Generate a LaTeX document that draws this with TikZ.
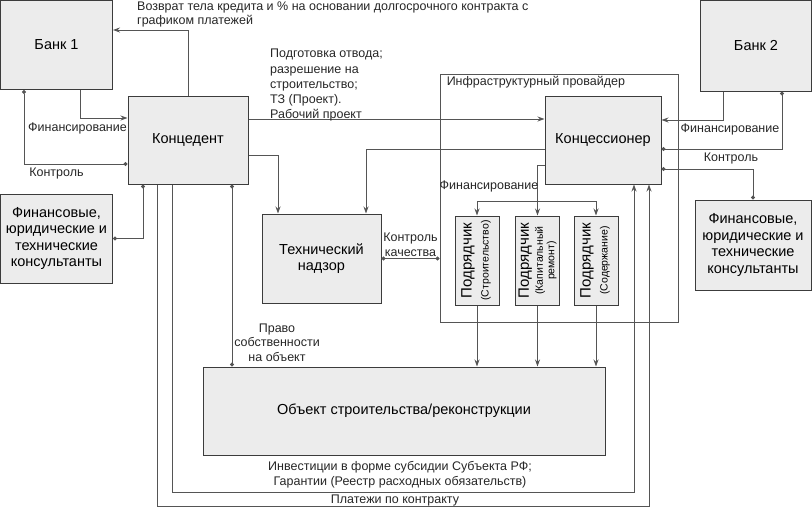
\documentclass[tikz,border=0pt]{standalone}
\usepackage{fontspec}
\setmainfont{Liberation Sans}
\usepackage{graphicx}
\usetikzlibrary{arrows.meta}
\definecolor{boxfill}{HTML}{ECECEC}
\definecolor{boxline}{HTML}{3C3C3C}
\definecolor{wirecol}{HTML}{555555}
\tikzset{
  box/.style={draw=boxline, fill=boxfill, line width=1pt, inner sep=2pt,
    align=center, font=\fontsize{14.5}{16.5}\selectfont},
  lbl/.style={inner sep=0pt, text=black!85, font=\fontsize{12.5}{15.2}\selectfont},
  wire/.style={draw=wirecol, line width=0.9pt},
  arr/.style={wire, -{Stealth[length=7pt,width=5pt]}},
  arrboth/.style={wire, {Stealth[length=7pt,width=5pt]}-{Stealth[length=7pt,width=5pt]}},
  dots/.style={wire, {Circle[length=4pt]}-{Circle[length=4pt]}}
}
\newcommand{\subtext}[2]{\rotatebox{90}{\begin{tabular}{@{}c@{}}%
  {\fontsize{15}{15}\selectfont #1}\\[1pt]%
  {\fontsize{10.5}{11.5}\selectfont\begin{tabular}{@{}c@{}}#2\end{tabular}}\end{tabular}}}

\begin{document}
\begin{tikzpicture}[x=1pt, y=-1pt]
\useasboundingbox (0,0) rectangle (812,507);
% infrastructure provider frame
\node[wire, minimum width=238pt, minimum height=248pt] (infra) at (559,198) {};
\node[lbl, anchor=north west] at ([shift={(7pt,-2pt)}]infra.north west) {Инфраструктурный провайдер};
% boxes
\node[box, minimum width=112pt, minimum height=89pt] (bank1) at (56.5,45) {Банк 1};
\node[box, minimum width=120pt, minimum height=88pt] (cnd) at (188,140) {Концедент};
\node[box, minimum width=112pt, minimum height=89pt] (consL) at (56.5,238.5)
  {Финансовые,\\юридические и\\технические\\консультанты};
\node[box, minimum width=119pt, minimum height=89pt] (tech) at (321.5,258.5) {Технический\\надзор};
\node[box, minimum width=116pt, minimum height=88pt] (cns) at (603,140) {Концессионер};
\node[box, minimum width=111pt, minimum height=91pt] (bank2) at (756,45.5) {Банк 2};
\node[box, minimum width=116pt, minimum height=90pt] (consR) at (753,245)
  {Финансовые,\\юридические и\\технические\\консультанты};
\node[box, minimum width=44pt, minimum height=89pt] (sub1) at (477,260.5) {\subtext{Подрядчик}{(Строительство)}};
\node[box, minimum width=44pt, minimum height=89pt] (sub2) at (537.5,260.5) {\subtext{Подрядчик}{(Капитальный\\ремонт)}};
\node[box, minimum width=44pt, minimum height=89pt] (sub3) at (596,260.5) {\subtext{Подрядчик}{(Содержание)}};
\node[box, minimum width=402pt, minimum height=88pt] (obj) at (404,411) {Объект строительства/реконструкции};

% connectors
\draw[arr] (cnd.north) |- ([yshift=15pt]bank1.east);
\draw[arr] ([xshift=23.5pt]bank1.south) |- ([yshift=22pt]cnd.west);
\draw[dots] ([xshift=-32.5pt]bank1.south) |- ([yshift=-24pt]cnd.west);
\draw[dots] (consL.east) -| ([xshift=-45pt]cnd.south);
\draw[arr] ([yshift=21pt]cnd.east) -- ([yshift=21pt]cns.west);
\draw[arr] ([yshift=-15pt]cnd.east) -| ([xshift=-43.5pt]tech.north);
\draw[arr] ([yshift=-9pt]cns.west) -| ([xshift=44.5pt]tech.north);
\draw[dots] (tech.east) -- (tech.east -| infra.west);
\draw[arr] ([xshift=-33pt]bank2.south) |- ([yshift=20pt]cns.east);
\draw[dots] ([xshift=26pt]bank2.south) |- ([yshift=-9pt]cns.east);
\draw[dots] ([yshift=-29pt]cns.east) -| (consR.north);
\draw[arr] ([yshift=-25pt]cns.west) -| (sub2.north);
\draw[arrboth] (sub1.north) |- ([yshift=14pt]sub2.north) -| (sub3.north);
\foreach \s in {sub1,sub2,sub3}
  \draw[arr] (\s.south) -- (\s.south |- obj.north);
\draw[dots] ([xshift=44pt]cnd.south) -- ([xshift=44pt]cnd.south |- obj.north);
\draw[arr] ([xshift=-16pt]cnd.south) |- ([yshift=-37pt]obj.south) -| ([xshift=31pt]cns.south);
\draw[arr] ([xshift=-31pt]cnd.south) |- ([yshift=-51pt]obj.south) -| ([xshift=46pt]cns.south);

% labels
\node[lbl, anchor=north west, align=left, font=\fontsize{12.5}{14}\selectfont] (retlbl) at (137,2)
  {Возврат тела кредита и \% на основании долгосрочного контракта с\\графиком платежей};
\node[lbl, anchor=north west, align=left] (preplbl) at (270,49)
  {Подготовка отвода;\\разрешение на\\строительство;\\ТЗ (Проект).\\Рабочий проект};
\node[lbl] (fin1) at (77.5,128) {Финансирование};
\node[lbl] (ctl1) at (56.5,173) {Контроль};
\node[lbl, align=center] (qlbl) at (410.5,244.5) {Контроль\\качества};
\node[lbl] (fin3) at (489,186) {Финансирование};
\node[lbl] (fin2) at (730,129) {Финансирование};
\node[lbl] (ctl2) at (731,158) {Контроль};
\node[lbl, align=center, font=\fontsize{12.5}{14.5}\selectfont] (ownlbl) at (277,342.5) {Право\\собственности\\на объект};
\node[lbl, align=center, font=\fontsize{12.5}{14.5}\selectfont] (invlbl) at (400,474.5)
  {Инвестиции в форме субсидии Субъекта РФ;\\Гарантии (Реестр расходных обязательств)};
\node[lbl] (paylbl) at (395,500) {Платежи по контракту};
\end{tikzpicture}
\end{document}
